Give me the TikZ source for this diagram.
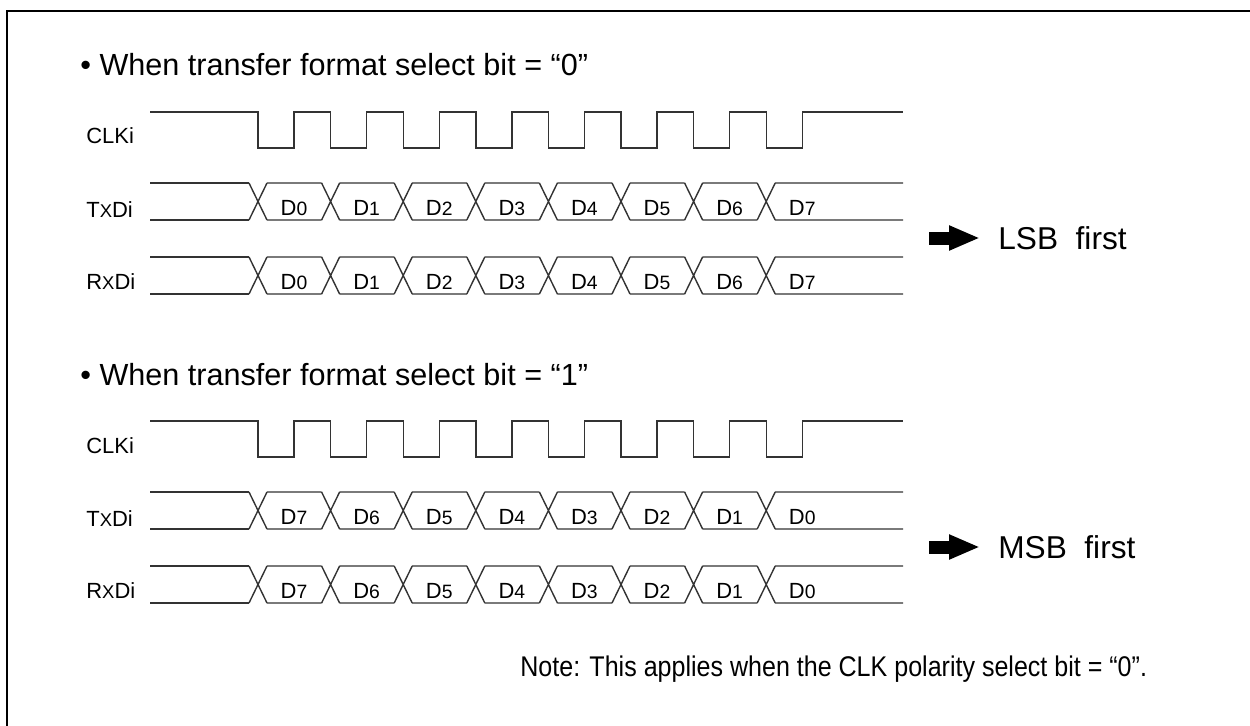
\documentclass[tikz,border=0pt]{standalone}
\usepackage{fontspec}
\usepackage{graphicx}
\setmainfont{Liberation Sans}
\usetikzlibrary{arrows.meta}

\newcommand{\dbit}[1]{D{\fontsize{11}{12}\selectfont #1}}
\newcommand{\smallx}{{\fontsize{10.5}{12}\selectfont X}}

\tikzset{
  wave/.style={line width=0.8pt, black!80},
  sig/.style={anchor=base west, inner sep=0pt, font=\fontsize{12.5}{15}\selectfont},
  bit/.style={anchor=base, inner sep=0pt, font=\fontsize{12.5}{14}\selectfont},
  head/.style={anchor=base west, inner sep=0pt, font=\fontsize{17.4}{20}\selectfont},
  order/.style={anchor=west, inner sep=0pt, font=\fontsize{18}{20}\selectfont},
  note/.style={anchor=base west, inner sep=0pt, font=\fontsize{16.2}{18}\selectfont},
  fatarrow/.style={line width=13*0.02cm, -{Triangle[length=0.62cm, width=0.46cm]}},
}

\begin{document}
\begin{tikzpicture}[x=0.02cm, y=-0.02cm]
  \useasboundingbox (0,0) rectangle (1250,726);
  % Frame
  \draw[line width=1.4pt] (7,740) -- (7,11) -- (1260,11);
  % Two cases: LSB first, then MSB first
  \foreach \s/\oy/\ord in {0/0/LSB, 1/309/MSB} {
    \begin{scope}[shift={(0,\oy)}]
      % Heading
      \node[head] (head\s) at (80,76) {• When transfer format select bit = “\s”};
      % Signal names
      \node[sig] (clk\s) at (86,144) {CLKi};
      \node[sig] (txd\s) at (86,217) {T\smallx Di};
      \node[sig] (rxd\s) at (86,289) {R\smallx Di};
      % Clock
      \draw[wave] (150,112) \foreach \k in {0,...,7} {
          -- ({258+72.6*\k},112) -- ({258+72.6*\k},148)
          -- ({294+72.6*\k},148) -- ({294+72.6*\k},112) } -- (903,112);
      % Data lines
      \foreach \top/\sn in {183/tx, 257/rx} {
        \draw[wave] (150,\top) -- (249,\top) (150,{\top+37}) -- (249,{\top+37});
        \foreach \k in {0,...,7} {
          \pgfmathsetmacro{\c}{258+72.6*\k}
          \pgfmathsetmacro{\e}{\k<7 ? \c+63.6 : 903}
          \pgfmathtruncatemacro{\d}{\k+\s*(7-2*\k)}
          \draw[wave] ({\c-9},\top) -- ({\c+9},{\top+37}) ({\c-9},{\top+37}) -- ({\c+9},\top)
            ({\c+9},\top) -- (\e,\top) ({\c+9},{\top+37}) -- (\e,{\top+37});
          \node[bit] (\sn\s-\k) at ({\c+36},{\top+32}) {\dbit{\d}};
        }
      }
      % Bit order
      \coordinate (arr\s) at (929,238);
      \node[order] (ord\s) at (998,238) {\ord\ \ first};
      \draw[fatarrow] (arr\s) -- ([xshift=-0.36cm]ord\s.west);
    \end{scope}
  }
  % Note
  \node[note] (note) at (520,676) {\scalebox{0.88}[1]{Note: This applies when the CLK polarity select bit = “0”.}};
\end{tikzpicture}
\end{document}
